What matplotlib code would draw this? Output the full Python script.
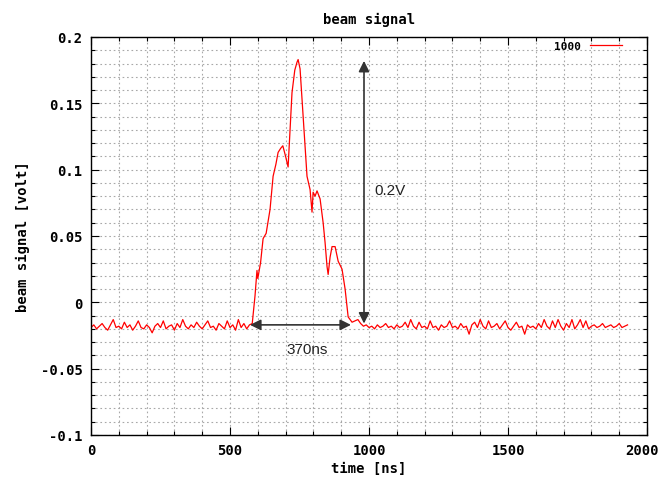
import matplotlib
matplotlib.use('Agg')
import matplotlib.pyplot as plt
from matplotlib.ticker import MultipleLocator
from matplotlib.transforms import ScaledTranslation
import numpy as np

# baseline before the pulse, sampled every 10 ns from 0 ns
t_pre = np.arange(0, 580, 10)
v_pre = [-0.019, -0.017, -0.020, -0.018, -0.016, -0.019, -0.021, -0.017, -0.013, -0.019,
         -0.018, -0.020, -0.015, -0.019, -0.017, -0.021, -0.018, -0.014, -0.019, -0.020,
         -0.017, -0.019, -0.023, -0.018, -0.016, -0.019, -0.014, -0.020, -0.018, -0.017,
         -0.021, -0.016, -0.019, -0.013, -0.018, -0.020, -0.017, -0.019, -0.015, -0.018,
         -0.020, -0.017, -0.014, -0.019, -0.018, -0.021, -0.016, -0.018, -0.020, -0.014,
         -0.019, -0.017, -0.021, -0.013, -0.019, -0.016, -0.020, -0.017]

# the pulse itself
t_pulse = [580, 590, 597, 600, 610, 619, 630, 644, 655, 665,
           673, 682, 690, 700, 709, 716, 723, 733, 741, 745,
           752, 763, 770, 777, 788, 795, 799, 806, 813, 824,
           835, 842, 849, 853, 860, 867, 878, 889, 896, 903,
           914, 925, 939]
v_pulse = [-0.016, 0.005, 0.024, 0.018, 0.030, 0.048, 0.052, 0.070, 0.095, 0.104,
           0.113, 0.116, 0.118, 0.110, 0.102, 0.130, 0.158, 0.175, 0.181, 0.183,
           0.176, 0.140, 0.118, 0.095, 0.085, 0.068, 0.083, 0.080, 0.084, 0.078,
           0.060, 0.045, 0.027, 0.021, 0.034, 0.042, 0.042, 0.031, 0.028, 0.025,
           0.010, -0.011, -0.015]

# baseline after the pulse, every 10 ns from 950 ns
t_post = np.arange(950, 1940, 10)
v_post = [-0.014, -0.013, -0.016, -0.018, -0.017, -0.019, -0.018, -0.020, -0.017, -0.019,
          -0.018, -0.016, -0.019, -0.018, -0.020, -0.017, -0.019, -0.018, -0.015, -0.019,
          -0.013, -0.018, -0.020, -0.015, -0.019, -0.018, -0.020, -0.014, -0.019, -0.018,
          -0.021, -0.017, -0.019, -0.018, -0.014, -0.019, -0.018, -0.020, -0.016, -0.019,
          -0.018, -0.024, -0.017, -0.015, -0.019, -0.013, -0.018, -0.020, -0.014, -0.019,
          -0.018, -0.016, -0.020, -0.017, -0.014, -0.019, -0.021, -0.018, -0.015, -0.019,
          -0.018, -0.024, -0.017, -0.019, -0.018, -0.020, -0.016, -0.019, -0.013, -0.018,
          -0.020, -0.014, -0.019, -0.013, -0.018, -0.021, -0.016, -0.019, -0.013, -0.020,
          -0.017, -0.013, -0.019, -0.014, -0.020, -0.018, -0.017, -0.019, -0.018, -0.016,
          -0.019, -0.018, -0.017, -0.019, -0.018, -0.016, -0.019, -0.018, -0.017]

t = np.concatenate([t_pre, t_pulse, t_post])
v = np.concatenate([v_pre, v_pulse, v_post])

mono = {'family': 'DejaVu Sans Mono', 'weight': 'bold', 'size': 10}

fig = plt.figure(figsize=(6.58, 4.81), dpi=100)
ax = fig.add_axes([0.1383, 0.0936, 0.845, 0.8274])

ax.plot(t, v, color='#ff0000', lw=0.9, label='1000')

ax.set_xlim(0, 2000)
ax.set_ylim(-0.1, 0.2)
ax.xaxis.set_minor_locator(MultipleLocator(100))
ax.yaxis.set_minor_locator(MultipleLocator(0.01))
ax.set_xticks([0, 500, 1000, 1500, 2000])
ax.set_xticklabels(['0', '500', '1000', '1500', '2000'], fontdict=mono)
ax.set_yticks([-0.1, -0.05, 0, 0.05, 0.1, 0.15, 0.2])
ax.set_yticklabels(['-0.1', '-0.05', '0', '0.05', '0.1', '0.15', '0.2'], fontdict=mono)
ax.tick_params(which='both', direction='in', top=True, right=True, color='black')
ax.tick_params(which='major', length=6, width=0.8, pad=6)
ax.tick_params(which='minor', length=3, width=0.8)

# keep the last x label inside the figure
last = ax.get_xticklabels()[-1]
last.set_transform(last.get_transform() + ScaledTranslation(-5 / 100, 0, fig.dpi_scale_trans))

ax.grid(which='both', color='#a8a8a8', linestyle=(0, (1.5, 2.5)), lw=0.8)
for s in ax.spines.values():
    s.set_linewidth(1.0)

ax.set_title('beam signal', fontdict=mono, pad=10)
ax.set_xlabel('time [ns]', fontdict=mono, labelpad=3)
ax.set_ylabel('beam signal [volt]', fontdict=mono, labelpad=8)

leg = ax.legend(loc='upper right', frameon=False, markerfirst=False,
                prop={'family': 'DejaVu Sans Mono', 'weight': 'bold', 'size': 8},
                handlelength=2.9, handletextpad=0.8, borderaxespad=0, borderpad=0,
                bbox_to_anchor=(0.955, 0.99))

arrow_kw = dict(arrowstyle='<|-|>', color='#333333', lw=1.2, mutation_scale=16,
                shrinkA=0, shrinkB=0)
ax.annotate('', xy=(982, 0.182), xytext=(982, -0.016), arrowprops=arrow_kw)
ax.annotate('', xy=(572, -0.017), xytext=(935, -0.017), arrowprops=arrow_kw)
ax.text(1020, 0.085, '0.2V', fontsize=11, family='Liberation Sans', color='#222222',
        va='center', ha='left')
ax.text(777, -0.035, '370ns', fontsize=11, family='Liberation Sans', color='#222222',
        va='center', ha='center')

plt.savefig('out.png', dpi=100)
